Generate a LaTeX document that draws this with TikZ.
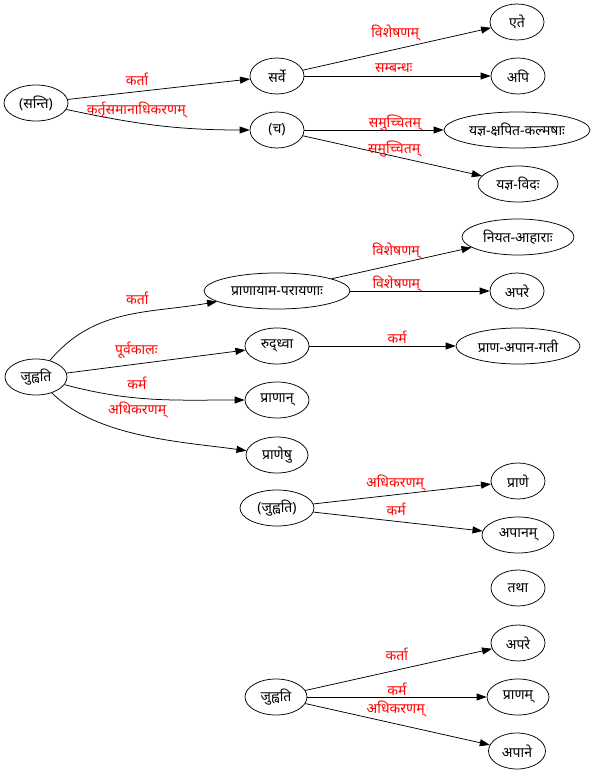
\documentclass[tikz,border=0pt]{standalone}
\usepackage{fontspec}
\setmainfont{Noto Sans}[Script=Devanagari]
\usepackage{tikz}
\usetikzlibrary{arrows.meta, shapes.geometric}
\definecolor{labred}{RGB}{255,0,0}

\begin{document}
\begin{tikzpicture}[x=1pt, y=1pt,
  >={Triangle[length=10pt, width=7pt]},
  every node/.style={font=\fontsize{14}{16}\selectfont},
  wd/.style={draw, ellipse, line width=0.75pt, minimum width=54pt,
             minimum height=36pt, inner sep=0pt},
  lab/.style={text=labred, inner sep=0pt},
  dep/.style={->, line width=0.75pt}
]
\useasboundingbox (0,0) rectangle (595,-773);
\node[wd, minimum width=64pt] (santi) at (36,-103) {(सन्ति)};
\node[wd] (sarve) at (277,-76)  {सर्वे};
\node[wd] (ca)    at (277,-130) {(च)};
\node[wd] (ete)   at (517,-22)  {एते};
\node[wd] (api)   at (518,-76)  {अपि};
\node[wd, minimum width=146pt] (ksapita) at (517,-130) {यज्ञ-क्षपित-कल्मषाः};
\node[wd, minimum width=80pt]  (vidah)   at (518,-184) {यज्ञ-विदः};

\node[wd, minimum width=62pt]  (juhoti)    at (36,-377)  {जुह्वति};
\node[wd, minimum width=146pt] (pranayama) at (277,-291) {प्राणायाम-परायणाः};
\node[wd, minimum width=112pt] (niyata)    at (518,-237) {नियत-आहाराः};
\node[wd] (apare) at (517,-291) {अपरे};
\node[wd, minimum width=64pt]  (ruddhva) at (277,-346) {रुद्ध्वा};
\node[wd, minimum width=124pt] (gati)    at (518,-346) {प्राण-अपान-गती};
\node[wd, minimum width=64pt]  (pranan)  at (277,-400) {प्राणान्};
\node[wd, minimum width=62pt]  (pranesu) at (277,-455) {प्राणेषु};

\node[wd, minimum width=74pt] (juhotiB) at (277,-508) {(जुह्वति)};
\node[wd] (prane) at (518,-481) {प्राणे};
\node[wd, minimum width=72pt] (apanam) at (518,-535) {अपानम्};
\node[wd] (tatha) at (518,-588) {तथा};

\node[wd, minimum width=62pt] (juhotiC) at (276,-697) {जुह्वति};
\node[wd] (apareB) at (518,-643) {अपरे};
\node[wd, minimum width=62pt] (pranam) at (518,-697) {प्राणम्};
\node[wd, minimum width=57pt] (apane)  at (517,-751) {अपाने};

\draw[dep] (santi) -- node[lab, pos=0.38, yshift=12.7pt]{कर्ता} (sarve);
\draw[dep] (santi) to[out=-12, in=180]
  node[lab, pos=0.375, yshift=12pt]{कर्तृसमानाधिकरणम्} (ca);
\draw[dep] (sarve) -- node[lab, pos=0.49, yshift=16pt]{विशेषणम्} (ete);
\draw[dep] (sarve) -- node[lab, pos=0.48, yshift=8pt]{सम्बन्धः} (api);
\draw[dep] (ca) -- node[lab, pos=0.65, yshift=7pt]{समुच्चितम्} (ksapita);
\draw[dep] (ca) -- node[lab, pos=0.51, yshift=7pt]{समुच्चितम्} (vidah);

\draw[dep] (juhoti) to[out=50, in=190]
  node[lab, pos=0.575, yshift=15pt]{कर्ता} (pranayama);
\draw[dep] (juhoti) -- node[lab, pos=0.39, yshift=14pt]{पूर्वकालः} (ruddhva);
\draw[dep] (juhoti) to[out=-15, in=180]
  node[lab, pos=0.4, yshift=15pt]{कर्म} (pranan);
\draw[dep] (juhoti) to[out=-45, in=172, looseness=0.8]
  node[lab, pos=0.475, yshift=24pt]{अधिकरणम्} (pranesu);
\draw[dep] (pranayama) -- node[lab, pos=0.46, yshift=13pt]{विशेषणम्} (niyata);
\draw[dep] (pranayama) -- node[lab, pos=0.33, yshift=7pt]{विशेषणम्} (apare);
\draw[dep] (ruddhva) -- node[lab, pos=0.6, yshift=9pt]{कर्म} (gati);

\draw[dep] (juhotiB) -- node[lab, pos=0.46, yshift=12pt]{अधिकरणम्} (prane);
\draw[dep] (juhotiB) -- node[lab, pos=0.49, yshift=12pt]{कर्म} (apanam);

\draw[dep] (juhotiC) -- node[lab, pos=0.49, yshift=16pt]{कर्ता} (apareB);
\draw[dep] (juhotiC) -- node[lab, pos=0.5, yshift=8pt]{कर्म} (pranam);
\draw[dep] (juhotiC) -- node[lab, pos=0.49, yshift=15pt]{अधिकरणम्} (apane);
\end{tikzpicture}
\end{document}
